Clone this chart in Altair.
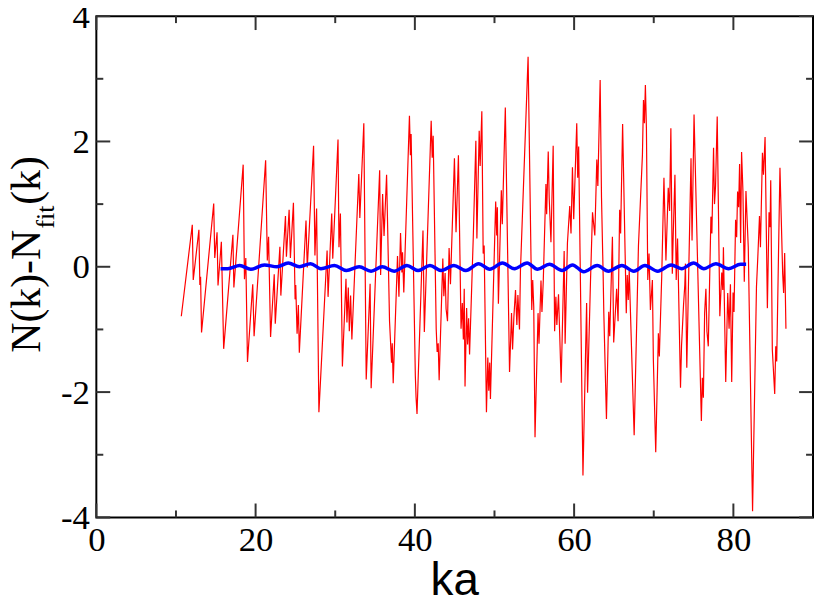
import altair as alt
import pandas as pd

# Red series: N(k) - N_fit(k)
red_x = [10.67, 12.05, 12.17, 12.88, 13.00, 13.09, 13.21, 14.74, 14.87, 15.16, 15.28, 15.70, 15.99,
         17.15, 17.27, 18.44, 18.60, 18.77, 18.98, 19.64, 19.81, 21.26, 21.47, 21.63, 21.88, 22.34,
         22.47, 23.05, 23.17, 23.75, 23.87, 24.21, 24.37, 24.75, 24.96, 25.04, 25.21, 25.37, 25.49,
         26.33, 26.49, 27.28, 27.45, 27.66, 27.95, 28.98, 29.10, 29.56, 29.69, 30.35, 30.47, 30.65,
         30.90, 31.35, 31.47, 31.64, 31.77, 31.93, 32.09, 32.96, 33.09, 33.59, 33.89, 34.38, 34.51,
         35.58, 35.70, 35.95, 36.13, 36.45, 36.82, 36.95, 37.07, 37.16, 37.28, 37.82, 38.00, 38.20,
         38.37, 38.45, 38.61, 39.32, 39.44, 39.53, 40.06, 40.15, 40.27, 41.02, 41.19, 42.05, 42.18,
         42.30, 42.68, 42.80, 42.93, 43.05, 43.51, 43.64, 43.80, 43.92, 44.10, 44.30, 44.47, 44.97,
         45.17, 45.47, 45.80, 45.96, 46.09, 46.20, 46.30, 46.50, 46.62, 46.75, 46.87, 47.33, 47.66,
         47.79, 48.08, 48.20, 48.41, 48.58, 48.70, 48.99, 49.16, 49.28, 49.40, 49.49, 50.15, 50.28,
         50.36, 50.49, 50.86, 50.98, 51.36, 51.89, 52.14, 52.27, 52.44, 52.64, 52.81, 52.94, 53.14,
         53.26, 54.22, 54.68, 54.80, 54.93, 55.09, 55.47, 55.59, 55.84, 55.96, 56.13, 56.46, 56.55,
         56.75, 56.87, 57.09, 57.37, 57.55, 57.71, 57.83, 58.04, 58.37, 58.75, 58.87, 59.16, 59.45,
         59.61, 59.79, 59.95, 60.33, 60.45, 60.57, 61.11, 61.57, 61.69, 62.06, 62.31, 62.60, 62.85,
         62.98, 63.27, 63.44, 63.65, 63.73, 64.06, 64.35, 64.47, 64.81, 64.97, 65.34, 65.52, 65.72,
         65.84, 66.09, 66.55, 66.67, 66.80, 66.92, 67.26, 67.54, 68.08, 68.58, 68.71, 68.83, 68.95,
         69.08, 69.25, 69.41, 69.58, 69.83, 69.95, 70.25, 70.58, 70.70, 71.00, 71.28, 71.53, 71.82,
         71.99, 72.15, 72.33, 72.45, 72.66, 72.82, 72.99, 73.36, 73.49, 73.74, 73.90, 73.98, 74.15,
         74.68, 74.81, 75.06, 75.98, 76.10, 76.23, 76.39, 76.55, 76.68, 76.85, 77.18, 77.30, 77.51,
         77.63, 77.76, 77.97, 78.30, 78.54, 78.67, 78.75, 79.04, 79.29, 79.46, 79.63, 79.79, 79.96,
         80.08, 80.28, 80.41, 80.53, 80.66, 80.78, 80.91, 81.03, 81.20, 81.37, 81.58, 81.87, 82.41,
         82.90, 83.07, 83.28, 83.40, 83.65, 83.78, 83.98, 84.27, 84.48, 84.61, 84.69, 84.89, 85.19,
         85.32, 85.44, 85.85, 86.19, 86.31, 86.44, 86.60]
red_y = [-0.79, 0.67, -0.21, 0.59, -0.29, -0.16, -1.05, 1.01, 0.14, 0.55, -0.30, 0.40, -1.31,
         0.51, -0.33, 1.63, -0.20, 0.14, -1.52, -0.28, -1.11, 1.70, 0.10, 0.48, -1.12, -0.12,
         -0.91, 0.32, -0.46, 0.81, 0.16, 0.91, 0.14, 1.02, -0.52, -0.29, -1.07, -0.61, -1.37,
         0.74, -0.01, 1.93, 0.18, 0.93, -2.32, 0.26, -0.48, 0.85, 0.13, 2.03, 0.31, 0.85,
         -1.59, -0.19, -0.89, -0.33, -1.03, -0.46, -1.16, 1.48, 0.78, 2.29, -1.80, -0.27, -1.94,
         1.54, -0.13, 1.16, 0.49, 1.47, -0.87, -1.21, -1.53, -1.22, -1.86, 0.17, -0.48, 0.54,
         -0.09, 0.23, -0.41, 2.41, 1.78, 2.12, -1.74, -2.08, -2.35, 0.58, -1.04, 2.33, 1.74,
         2.09, -0.99, -1.36, -1.22, -1.81, 0.13, -0.47, -0.10, -0.67, -0.87, 0.30, -0.28, 1.73,
         0.55, 1.78, -0.99, -0.58, -1.16, -0.35, -1.91, -0.66, -1.24, -0.82, -1.40, 0.45, 2.01,
         0.45, 2.17, 1.61, 2.48, 0.21, 0.34, -2.32, -1.45, -1.98, -1.53, -2.11, 1.04, 0.50,
         0.95, -0.59, 1.22, 0.68, 2.54, -1.68, -0.74, -1.32, -0.79, -0.37, -0.93, -0.45, -1.00,
         -0.06, 3.35, -0.69, -0.21, -0.64, -2.72, -0.74, -1.23, -0.22, -0.72, -0.21, 1.32, 0.84,
         1.84, 1.10, 0.39, 1.93, -1.03, -0.48, -0.93, -0.44, -1.85, 0.25, -1.23, 0.38, 0.97,
         0.53, 1.59, 0.76, 2.29, 1.42, 1.92, -3.33, -0.58, -2.01, -0.21, 0.87, 0.50, 1.71,
         1.29, 2.98, 1.10, -0.16, -0.74, -2.43, -0.72, -1.11, 0.48, -1.21, -0.35, -0.87, 0.91,
         0.53, 2.28, -0.74, -0.13, -0.53, -0.06, -1.52, -2.69, 0.34, 1.79, 2.66, 2.29, 2.90,
         2.21, -0.21, 0.21, -0.69, -0.21, -1.48, -2.96, -1.06, -1.43, -0.16, 1.42, 0.10, 1.26,
         0.89, 2.21, -0.11, 0.53, 1.47, -0.21, 0.45, -1.93, -1.26, -0.61, -0.29, 0.05, -1.61,
         1.73, 0.42, 2.43, -2.46, -1.77, -2.09, -0.74, -0.35, -1.03, -1.27, 0.80, 0.53, 1.90,
         1.00, 1.29, 2.40, -0.79, -0.09, -0.37, 0.31, -1.84, -0.42, -0.99, -0.28, -1.84, -0.41,
         -0.72, 0.75, 0.47, 1.20, 0.95, 1.64, 0.38, 1.83, 1.21, -0.24, 1.21, 0.31, -3.90,
         -0.32, 0.16, 0.81, 0.31, 1.82, 1.47, 2.07, -0.66, 0.87, 0.63, 1.38, -1.32, -2.03,
         -1.27, -1.51, 1.58, -0.11, -0.42, 0.22, -0.99]

# Blue smooth curve: extremes
blue_x = [15.6, 16.5, 18.0, 19.4, 21.1, 22.7, 24.1, 25.5, 26.9, 28.2, 29.9, 31.4, 33.0, 34.5,
          35.9, 37.4, 39.0, 40.4, 41.9, 43.3, 44.9, 46.4, 48.0, 49.4, 51.0, 52.5, 54.1, 55.4,
          56.9, 58.5, 59.8, 61.2, 62.9, 64.3, 66.0, 67.5, 68.9, 70.5, 72.2, 73.5, 75.0, 76.3,
          77.8, 79.4, 80.9, 81.6]
blue_y = [-0.03, -0.03, 0.02, -0.04, 0.03, 0.00, 0.06, 0.00, 0.05, -0.03, 0.02, -0.06, 0.00, -0.07,
          0.00, -0.07, 0.02, -0.06, 0.02, -0.06, 0.02, -0.06, 0.05, -0.04, 0.06, -0.03, 0.06, -0.04,
          0.04, -0.06, 0.03, -0.08, 0.02, -0.07, 0.02, -0.07, 0.02, -0.07, 0.03, -0.03, 0.06, -0.03,
          0.05, -0.03, 0.04, 0.04]

x_major = [0, 20, 40, 60, 80]
x_minor = [10, 30, 50, 70]
y_major = [-4, -2, 0, 2, 4]
y_minor = [-3, -1, 1, 3]

W, H = 722, 505
xs = alt.Scale(domain=[0, 90], nice=False, zero=False)
ys = alt.Scale(domain=[-4, 4], nice=False, zero=False)

red_df = pd.DataFrame({"ka": red_x, "dN": red_y})
blue_df = pd.DataFrame({"ka": blue_x, "dN": blue_y})

x_axis = alt.Axis(values=x_major, labelFont="Liberation Serif", labelFontSize=35, labelColor="black",
                  ticks=False, tickSize=0, domain=False, grid=False, labelPadding=5,
                  labelFlush=False, labelOverlap=False, title=None,
                  labelExpr="'' + datum.value")
y_axis = alt.Axis(values=y_major, labelFont="Liberation Serif", labelFontSize=35, labelColor="black",
                  ticks=False, tickSize=0, domain=False, grid=False, labelPadding=7,
                  labelFlush=False, labelOverlap=False, title=None,
                  labelExpr="'' + datum.value")

red = alt.Chart(red_df).mark_line(color="#ff0000", strokeWidth=1.2).encode(
    x=alt.X("ka:Q", scale=xs, axis=x_axis),
    y=alt.Y("dN:Q", scale=ys, axis=y_axis),
    order="ka:Q",
)
blue = alt.Chart(blue_df).mark_line(color="#0000ff", strokeWidth=3.5, interpolate="monotone").encode(
    x=alt.X("ka:Q", scale=xs, axis=x_axis),
    y=alt.Y("dN:Q", scale=ys, axis=y_axis),
)

tick_color = "#333333"
def xticks(vals, y1, y2):
    return alt.Chart(pd.DataFrame({"ka": vals})).mark_rule(color=tick_color, strokeWidth=2).encode(
        x=alt.X("ka:Q", scale=xs, axis=x_axis), y=alt.value(y1), y2=alt.value(y2))

def yticks(vals, x1, x2):
    return alt.Chart(pd.DataFrame({"dN": vals})).mark_rule(color=tick_color, strokeWidth=2).encode(
        y=alt.Y("dN:Q", scale=ys, axis=y_axis), x=alt.value(x1), x2=alt.value(x2))

ticks = [
    xticks(x_major, H - 14, H), xticks(x_minor, H - 7, H),
    xticks(x_major, 0, 14), xticks(x_minor, 0, 7),
    yticks(y_major, 0, 14), yticks(y_minor, 0, 7),
    yticks(y_major, W - 14, W), yticks(y_minor, W - 7, W),
]

def label(txt, x, y, size, font, angle=0, align="left"):
    return alt.Chart(pd.DataFrame({"t": [txt]})).mark_text(
        font=font, fontSize=size, color="black", angle=angle, align=align, baseline="alphabetic"
    ).encode(text="t:N", x=alt.value(x), y=alt.value(y))

titles = [
    label("N(k)-N", -57, 339, 42, "Liberation Serif", angle=270),
    label("fit", -43, 214, 26, "Liberation Serif", angle=270),
    label("(k)", -57, 190, 42, "Liberation Serif", angle=270),
    label("ka", W / 2, 583, 46, "Liberation Sans", align="center"),
]

chart = alt.layer(red, blue, *ticks, *titles).properties(
    width=W, height=H,
    autosize=alt.AutoSizeParams(type="none"),
    padding={"left": 89, "top": 6, "right": 1, "bottom": 80},
    background="white",
).configure_view(stroke="black", strokeWidth=2)

chart.save("out.html", embed_options={"renderer": "svg", "actions": False})
